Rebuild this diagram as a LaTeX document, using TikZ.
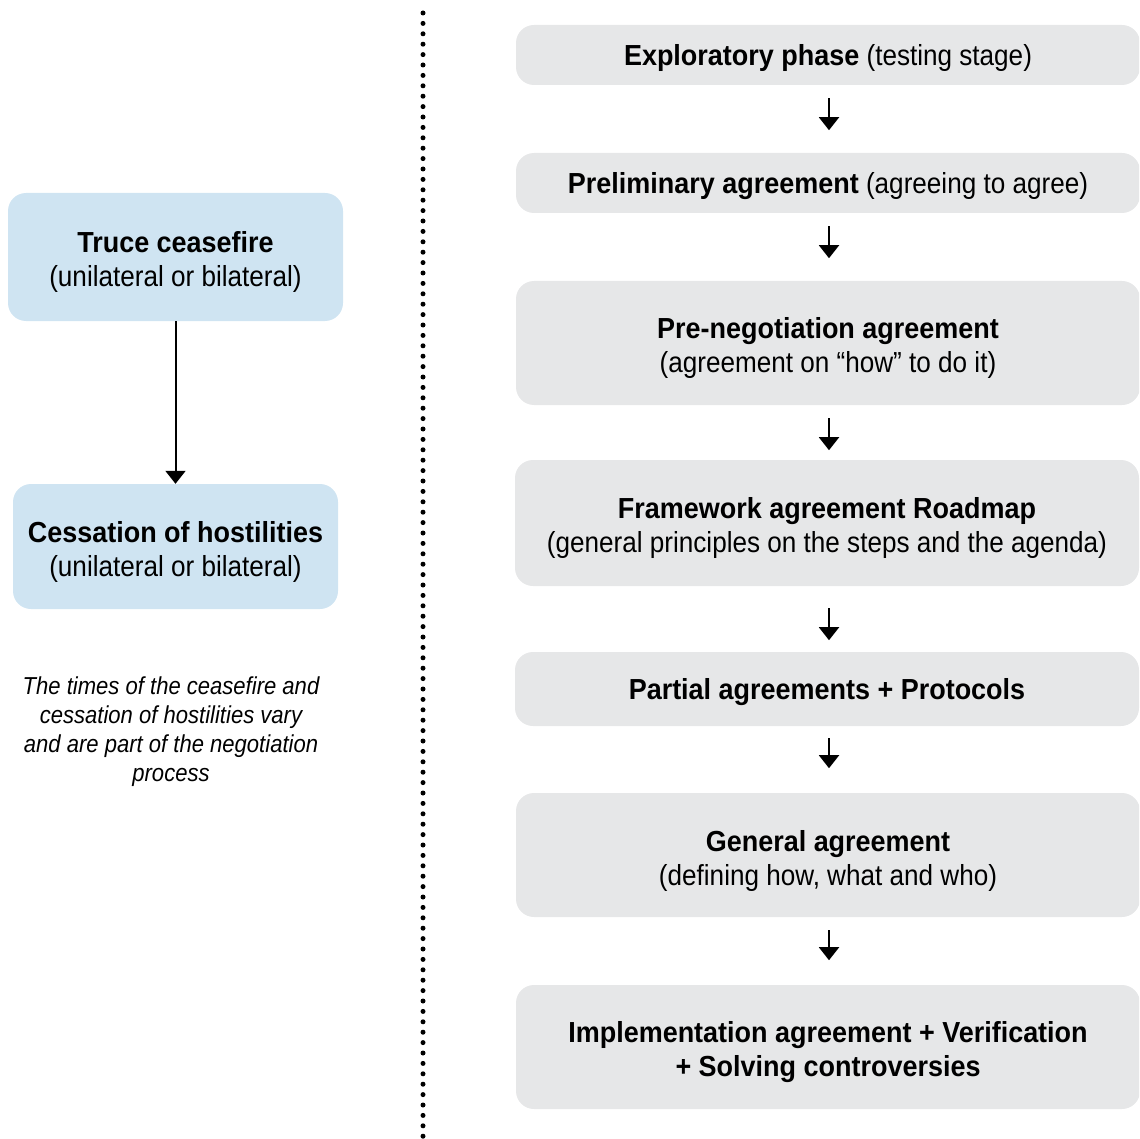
\documentclass[tikz,border=0pt]{standalone}
\usepackage{fontspec}
\setmainfont{Liberation Sans}[FakeStretch=0.9, BoldFeatures={FakeStretch=0.93}]
\usetikzlibrary{arrows.meta}
\definecolor{boxgray}{HTML}{E6E7E8}
\definecolor{boxblue}{HTML}{CFE4F2}
\newcommand{\topstrut}{\rule{0pt}{32pt}}
\tikzset{
  graybox/.style={fill=boxgray, rounded corners=18pt, align=center, minimum width=624pt, inner sep=0pt,
    font=\fontsize{29}{34}\selectfont, execute at begin node={\rule{0pt}{27.5pt}}},
  bluebox/.style={fill=boxblue, rounded corners=18pt, align=center, inner sep=0pt,
    font=\fontsize{29}{34}\selectfont},
  arr/.style={line width=2pt, -{Triangle[width=20pt,length=13pt]}},
  note/.style={align=center, font=\fontsize{24.5}{29}\selectfont\itshape},
  dotline/.style={line width=5pt, line cap=round, dash pattern=on 0pt off 10.4pt}
}
\begin{document}
\begin{tikzpicture}[x=1pt,y=-1pt]
\useasboundingbox (0,0) rectangle (1139,1139);
\clip (0,0) rectangle (1139,1139);
% dotted separator
\coordinate (d1) at (423,13);
\coordinate (d2) at (423,1139);
\draw[dotline] (d1) -- (d2);
% right column
\node[graybox, minimum height=60pt] (e1) at (828,55) {\textbf{Exploratory phase} (testing stage)};
\node[graybox, minimum height=60pt] (e2) at (828,183) {\textbf{Preliminary agreement} (agreeing to agree)};
\node[graybox, minimum height=124pt] (e3) at (828,343) {\topstrut\textbf{Pre-negotiation agreement}\\(agreement on “how” to do it)};
\node[graybox, minimum height=126pt] (e4) at (827,523) {\topstrut\textbf{Framework agreement Roadmap}\\(general principles on the steps and the agenda)};
\node[graybox, minimum height=74pt] (e5) at (827,689) {\textbf{Partial agreements + Protocols}};
\node[graybox, minimum height=124pt] (e6) at (828,855) {\topstrut\textbf{General agreement}\\(defining how, what and who)};
\node[graybox, minimum height=124pt] (e7) at (828,1047) {\topstrut\textbf{Implementation agreement + Verification}\\\textbf{+ Solving controversies}};
% arrows right
\draw[arr] ([xshift=1pt,yshift=-13pt]e1.south) -- ++(0,32);
\draw[arr] ([xshift=1pt,yshift=-13pt]e2.south) -- ++(0,32);
\draw[arr] ([xshift=1pt,yshift=-13pt]e3.south) -- ++(0,32);
\draw[arr] ([xshift=2pt,yshift=-22pt]e4.south) -- ++(0,32);
\draw[arr] ([xshift=2pt,yshift=-12pt]e5.south) -- ++(0,30);
\draw[arr] ([xshift=1pt,yshift=-13pt]e6.south) -- ++(0,30);
% left column
\node[bluebox, minimum width=335pt, minimum height=128pt] (a) at (175.5,257) {\topstrut\textbf{Truce ceasefire}\\(unilateral or bilateral)};
\node[bluebox, minimum width=325pt, minimum height=125pt] (b) at (175.5,546.5) {\topstrut\textbf{Cessation of hostilities}\\(unilateral or bilateral)};
\draw[arr] (a.south) -- (b.north);
\node[note] (n) at (171,732) {The times of the ceasefire and\\cessation of hostilities vary\\and are part of the negotiation\\process};
\end{tikzpicture}
\end{document}
